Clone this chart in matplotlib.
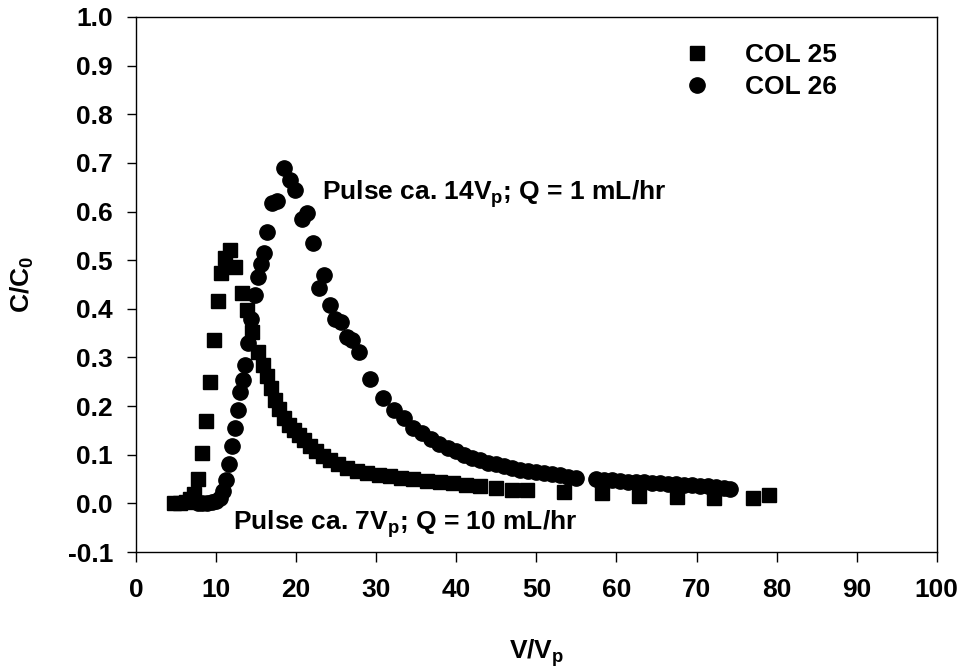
import matplotlib
matplotlib.use("Agg")
import matplotlib.pyplot as plt

try:
    import matplotlib._mathtext as _mt
    _mt.FontConstantsBase.subdrop = 0.65
except Exception:
    pass

plt.rcParams['font.family'] = ['Liberation Sans', 'DejaVu Sans']
plt.rcParams['font.weight'] = 'bold'
plt.rcParams['axes.unicode_minus'] = False
plt.rcParams['mathtext.fontset'] = 'custom'
plt.rcParams['mathtext.bf'] = 'Liberation Sans:bold'
plt.rcParams['mathtext.rm'] = 'Liberation Sans:bold'
plt.rcParams['mathtext.it'] = 'Liberation Sans:bold'

# COL 25 (squares)
col25_x = [4.8, 5.5, 6.2, 6.8, 7.3, 7.8, 8.2, 8.75, 9.2, 9.7, 10.2, 10.6, 11.1, 11.75,
           12.4, 13.2, 13.8, 14.5, 15.2, 15.9, 16.4, 16.9, 17.4, 17.9, 18.5, 19.1, 19.7,
           20.3, 21.0, 21.7, 22.5, 23.3, 24.2, 25.2, 26.4, 27.6, 28.9, 30.3, 31.7, 33.1,
           34.6, 36.3, 38.0, 39.6, 41.2, 43.0, 45.0, 47.0, 48.8, 53.4, 58.2, 62.8, 67.6,
           72.2, 77.0, 79.0]
col25_y = [0.000, 0.000, 0.003, 0.008, 0.020, 0.051, 0.103, 0.170, 0.250, 0.336, 0.417,
           0.473, 0.504, 0.521, 0.487, 0.433, 0.397, 0.352, 0.312, 0.284, 0.262, 0.238,
           0.212, 0.194, 0.176, 0.162, 0.150, 0.140, 0.130, 0.119, 0.108, 0.098, 0.089,
           0.080, 0.073, 0.067, 0.063, 0.059, 0.056, 0.053, 0.050, 0.047, 0.044, 0.041,
           0.038, 0.035, 0.031, 0.028, 0.027, 0.024, 0.021, 0.016, 0.014, 0.011, 0.012, 0.017]

# COL 26 (circles)
col26_x = [7.7, 8.3, 8.9, 9.5, 10.0, 10.5, 10.9, 11.3, 11.6, 12.0, 12.4, 12.7, 13.0, 13.4,
           13.6, 14.0, 14.4, 14.9, 15.2, 15.6, 16.0, 16.3, 17.0, 17.6, 18.5, 19.2, 19.8,
           20.7, 21.4, 22.1, 22.9, 23.5, 24.2, 24.9, 25.6, 26.3, 27.0, 27.8, 29.2, 30.8,
           32.2, 33.5, 34.6, 35.7, 36.8, 37.9, 39.0, 40.0, 41.0, 42.0, 43.0, 44.0, 45.0,
           46.0, 47.0, 48.0, 49.0, 50.0, 51.0, 52.0, 53.0, 54.0, 55.0, 57.4, 58.4, 59.4,
           60.4, 61.4, 62.4, 63.4, 64.4, 65.4, 66.4, 67.4, 68.4, 69.4, 70.4, 71.4, 72.4,
           73.4, 74.2]
col26_y = [0.000, 0.000, 0.000, 0.002, 0.005, 0.012, 0.025, 0.048, 0.082, 0.118, 0.154,
           0.193, 0.230, 0.254, 0.284, 0.330, 0.380, 0.428, 0.466, 0.492, 0.515, 0.558,
           0.617, 0.622, 0.689, 0.665, 0.645, 0.585, 0.598, 0.535, 0.443, 0.469, 0.408,
           0.380, 0.372, 0.343, 0.336, 0.312, 0.255, 0.216, 0.192, 0.176, 0.155, 0.144,
           0.133, 0.122, 0.114, 0.107, 0.100, 0.094, 0.089, 0.084, 0.080, 0.076, 0.072,
           0.069, 0.066, 0.064, 0.062, 0.060, 0.058, 0.055, 0.053, 0.051, 0.049, 0.048,
           0.046, 0.045, 0.044, 0.043, 0.042, 0.041, 0.040, 0.039, 0.038, 0.037, 0.036,
           0.035, 0.034, 0.032, 0.030]

x_ticks = [0, 10, 20, 30, 40, 50, 60, 70, 80, 90, 100]
y_ticks = [-0.1, 0.0, 0.1, 0.2, 0.3, 0.4, 0.5, 0.6, 0.7, 0.8, 0.9, 1.0]
y_tick_labels = ['-0.1', '0.0', '0.1', '0.2', '0.3', '0.4', '0.5', '0.6', '0.7', '0.8', '0.9', '1.0']

fig = plt.figure(figsize=(9.64, 6.71), dpi=100)
ax = fig.add_axes([0.1411, 0.1773, 0.8306, 0.7974])

ax.plot(col25_x, col25_y, linestyle='none', marker='s', markersize=10.5,
        color='black', label='COL 25')
ax.plot(col26_x, col26_y, linestyle='none', marker='o', markersize=11,
        color='black', label='COL 26')

ax.set_xlim(0, 100)
ax.set_ylim(-0.1, 1.0)
ax.set_xticks(x_ticks)
ax.set_xticklabels([str(t) for t in x_ticks])
ax.set_yticks(y_ticks)
ax.set_yticklabels(y_tick_labels)

for s in ax.spines.values():
    s.set_linewidth(1.0)
ax.tick_params(axis='x', direction='out', length=7, width=1.0, pad=12, labelsize=19)
ax.tick_params(axis='y', direction='out', length=6.5, width=1.0, pad=10, labelsize=19)
for lab in ax.get_xticklabels() + ax.get_yticklabels():
    lab.set_fontweight('bold')

ax.set_xlabel(r'$\mathbf{V/V}_\mathbf{p}$', fontsize=19)
ax.xaxis.set_label_coords(0.5, -0.16)
ax.set_ylabel(r'$\mathbf{C/C}_\mathbf{0}$', fontsize=19)
ax.yaxis.set_label_coords(-0.125, 0.5)

ax.text(23.2, 0.625, r'Pulse ca. 14$\mathbf{V}_\mathbf{p}$; Q = 1 mL/hr',
        fontsize=19, fontweight='bold', ha='left', va='baseline')
ax.text(12.1, -0.055, r'Pulse ca. 7$\mathbf{V}_\mathbf{p}$; Q = 10 mL/hr',
        fontsize=19, fontweight='bold', ha='left', va='baseline')

leg = ax.legend(loc='upper left', bbox_to_anchor=(0.6844, 0.9514), frameon=False,
                numpoints=1, handlelength=1.0, handletextpad=1.3, borderpad=0,
                borderaxespad=0, labelspacing=0.3, prop={'size': 19, 'weight': 'bold'})

fig.savefig('out.png', dpi=100)
